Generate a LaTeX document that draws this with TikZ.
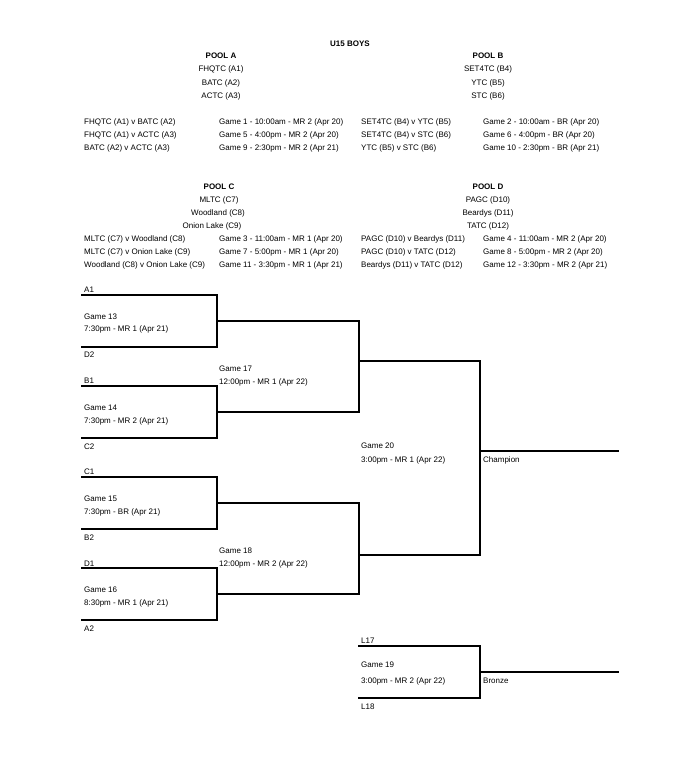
\documentclass[tikz,border=0pt]{standalone}
\usepackage{fontspec}
\setmainfont{Liberation Sans}
\begin{document}
\begin{tikzpicture}[x=1pt,y=-1pt,
  txt/.style={font=\fontsize{8}{9.6}\selectfont, inner sep=0pt, text height=5.8pt, text depth=0pt, anchor=west, yshift=-1pt},
  ctr/.style={txt, anchor=center},
  ttl/.style={ctr, font=\fontsize{8}{9.6}\selectfont\bfseries},
  brk/.style={line width=1.1pt, line cap=rect}]
\useasboundingbox (0,0) rectangle (699,775);
\fill[white] (0,0) rectangle (699,775);

% Title
\node[ttl] (title) at (350,43) {U15 BOYS};

% Pool A
\node[ttl] (pa) at (221,55) {POOL A};
\node[ctr] (pa1) at (221,68) {FHQTC (A1)};
\node[ctr] (pa2) at (221,82) {BATC (A2)};
\node[ctr] (pa3) at (221,95) {ACTC (A3)};
\node[txt] (ma1) at (84,121) {FHQTC (A1) v BATC (A2)};
\node[txt] (ma2) at (84,134) {FHQTC (A1) v ACTC (A3)};
\node[txt] (ma3) at (84,147) {BATC (A2) v ACTC (A3)};
\node[txt] (ga1) at (219,121) {Game 1 - 10:00am - MR 2 (Apr 20)};
\node[txt] (ga2) at (219,134) {Game 5 - 4:00pm - MR 2 (Apr 20)};
\node[txt] (ga3) at (219,147) {Game 9 - 2:30pm - MR 2 (Apr 21)};

% Pool B
\node[ttl] (pb) at (488,55) {POOL B};
\node[ctr] (pb1) at (488,68) {SET4TC (B4)};
\node[ctr] (pb2) at (488,82) {YTC (B5)};
\node[ctr] (pb3) at (488,95) {STC (B6)};
\node[txt] (mb1) at (361,121) {SET4TC (B4) v YTC (B5)};
\node[txt] (mb2) at (361,134) {SET4TC (B4) v STC (B6)};
\node[txt] (mb3) at (361,147) {YTC (B5) v STC (B6)};
\node[txt] (gb1) at (483,121) {Game 2 - 10:00am - BR (Apr 20)};
\node[txt] (gb2) at (483,134) {Game 6 - 4:00pm - BR (Apr 20)};
\node[txt] (gb3) at (483,147) {Game 10 - 2:30pm - BR (Apr 21)};

% Pool C
\node[ttl] (pc) at (219,186) {POOL C};
\node[ctr] (pc1) at (219,199) {MLTC (C7)};
\node[ctr] (pc2) at (218,212) {Woodland (C8)};
\node[ctr] (pc3) at (212,225) {Onion Lake (C9)};
\node[txt] (mc1) at (84,238) {MLTC (C7) v Woodland (C8)};
\node[txt] (mc2) at (84,251) {MLTC (C7) v Onion Lake (C9)};
\node[txt] (mc3) at (84,264) {Woodland (C8) v Onion Lake (C9)};
\node[txt] (gc1) at (219,238) {Game 3 - 11:00am - MR 1 (Apr 20)};
\node[txt] (gc2) at (219,251) {Game 7 - 5:00pm - MR 1 (Apr 20)};
\node[txt] (gc3) at (219,264) {Game 11 - 3:30pm - MR 1 (Apr 21)};

% Pool D
\node[ttl] (pd) at (488,186) {POOL D};
\node[ctr] (pd1) at (488,199) {PAGC (D10)};
\node[ctr] (pd2) at (488,212) {Beardys (D11)};
\node[ctr] (pd3) at (488,225) {TATC (D12)};
\node[txt] (md1) at (361,238) {PAGC (D10) v Beardys (D11)};
\node[txt] (md2) at (361,251) {PAGC (D10) v TATC (D12)};
\node[txt] (md3) at (361,264) {Beardys (D11) v TATC (D12)};
\node[txt] (gd1) at (483,238) {Game 4 - 11:00am - MR 2 (Apr 20)};
\node[txt] (gd2) at (483,251) {Game 8 - 5:00pm - MR 2 (Apr 20)};
\node[txt] (gd3) at (483,264) {Game 12 - 3:30pm - MR 2 (Apr 21)};

% Bracket coordinates
\coordinate (a1s) at (82,295);  \coordinate (a1e) at (217,295);
\coordinate (d2s) at (82,347);  \coordinate (d2e) at (217,347);
\coordinate (b1s) at (82,386);  \coordinate (b1e) at (217,386);
\coordinate (c2s) at (82,438);  \coordinate (c2e) at (217,438);
\coordinate (c1s) at (82,477);  \coordinate (c1e) at (217,477);
\coordinate (b2s) at (82,529);  \coordinate (b2e) at (217,529);
\coordinate (d1s) at (82,568);  \coordinate (d1e) at (217,568);
\coordinate (a2s) at (82,620);  \coordinate (a2e) at (217,620);
\coordinate (g13) at (217,321); \coordinate (g13e) at (359,321);
\coordinate (g14) at (217,412); \coordinate (g14e) at (359,412);
\coordinate (g15) at (217,503); \coordinate (g15e) at (359,503);
\coordinate (g16) at (217,594); \coordinate (g16e) at (359,594);
\coordinate (g17) at (359,361); \coordinate (g17e) at (480,361);
\coordinate (g18) at (359,555); \coordinate (g18e) at (480,555);
\coordinate (g20) at (480,451); \coordinate (champ) at (618,451);
\coordinate (l17s) at (359,646); \coordinate (l17e) at (480,646);
\coordinate (l18s) at (359,698); \coordinate (l18e) at (480,698);
\coordinate (g19) at (480,672); \coordinate (bronze) at (618,672);

% Round 1
\draw[brk] (a1s) -- (a1e) -- (d2e) -- (d2s);
\draw[brk] (b1s) -- (b1e) -- (c2e) -- (c2s);
\draw[brk] (c1s) -- (c1e) -- (b2e) -- (b2s);
\draw[brk] (d1s) -- (d1e) -- (a2e) -- (a2s);
\draw[brk] (g13) -- (g13e);
\draw[brk] (g14) -- (g14e);
\draw[brk] (g15) -- (g15e);
\draw[brk] (g16) -- (g16e);
% Semis
\draw[brk] (g13e) -- (g14e);
\draw[brk] (g15e) -- (g16e);
\draw[brk] (g17) -- (g17e) -- (g18e) -- (g18);
\draw[brk] (g20) -- (champ);
% Bronze
\draw[brk] (l17s) -- (l17e) -- (l18e) -- (l18s);
\draw[brk] (g19) -- (bronze);

% Bracket labels
\node[txt] (la1) at (84,289) {A1};
\node[txt] (g13a) at (84,316) {Game 13};
\node[txt] (g13b) at (84,328) {7:30pm - MR 1 (Apr 21)};
\node[txt] (ld2) at (84,354) {D2};
\node[txt] (lb1) at (84,380) {B1};
\node[txt] (g14a) at (84,407) {Game 14};
\node[txt] (g14b) at (84,420) {7:30pm - MR 2 (Apr 21)};
\node[txt] (lc2) at (84,446) {C2};
\node[txt] (lc1) at (84,471) {C1};
\node[txt] (g15a) at (84,498) {Game 15};
\node[txt] (g15b) at (84,511) {7:30pm - BR (Apr 21)};
\node[txt] (lb2) at (84,537) {B2};
\node[txt] (ld1) at (84,563) {D1};
\node[txt] (g16a) at (84,589) {Game 16};
\node[txt] (g16b) at (84,602) {8:30pm - MR 1 (Apr 21)};
\node[txt] (la2) at (84,628) {A2};

\node[txt] (g17a) at (219,368) {Game 17};
\node[txt] (g17b) at (219,381) {12:00pm - MR 1 (Apr 22)};
\node[txt] (g18a) at (219,550) {Game 18};
\node[txt] (g18b) at (219,563) {12:00pm - MR 2 (Apr 22)};

\node[txt] (g20a) at (361,445) {Game 20};
\node[txt] (g20b) at (361,459) {3:00pm - MR 1 (Apr 22)};
\node[txt] (lchamp) at (483,459) {Champion};

\node[txt] (ll17) at (361,640) {L17};
\node[txt] (g19a) at (361,664) {Game 19};
\node[txt] (g19b) at (361,680) {3:00pm - MR 2 (Apr 22)};
\node[txt] (ll18) at (361,706) {L18};
\node[txt] (lbronze) at (483,680) {Bronze};
\end{tikzpicture}
\end{document}
